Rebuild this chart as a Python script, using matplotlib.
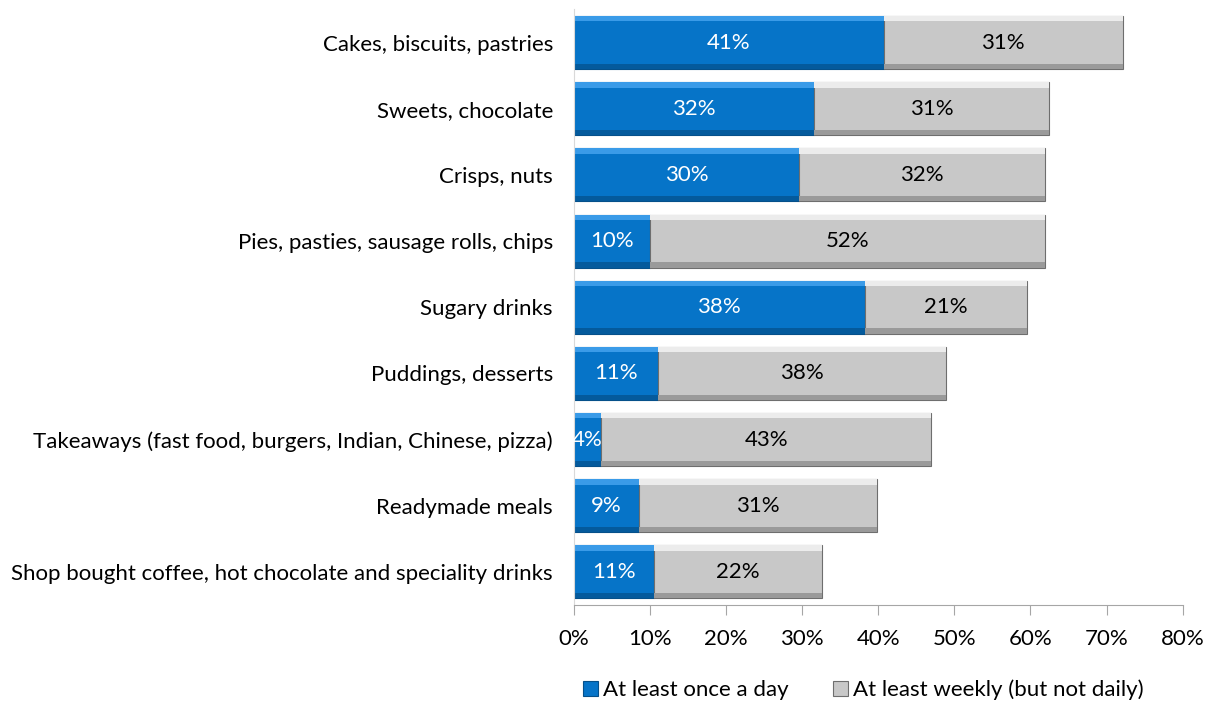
import matplotlib.pyplot as plt
import numpy as np

categories = [
    "Cakes, biscuits, pastries",
    "Sweets, chocolate",
    "Crisps, nuts",
    "Pies, pasties, sausage rolls, chips",
    "Sugary drinks",
    "Puddings, desserts",
    "Takeaways (fast food, burgers, Indian, Chinese, pizza)",
    "Readymade meals",
    "Shop bought coffee, hot chocolate and speciality drinks",
]
daily = [40.7, 31.6, 29.6, 10.0, 38.2, 11.1, 3.6, 8.6, 10.6]
weekly = [31.4, 30.8, 32.3, 51.9, 21.3, 37.8, 43.4, 31.2, 22.0]
series_names = ["At least once a day", "At least weekly (but not daily)"]
ticks = [0, 10, 20, 30, 40, 50, 60, 70, 80]

plt.rcParams['font.family'] = ['Lato', 'DejaVu Sans']
fs = 16

blue = "#0674C8"
grey = "#C8C8C8"

fig = plt.figure(figsize=(12.08, 7.04), dpi=100)
ax = fig.add_axes([0.475, 0.1406, 0.504, 0.846])

y = np.arange(len(categories))
h = 0.8
daily = np.array(daily)
weekly = np.array(weekly)

b1 = ax.barh(y, daily, height=h, color=blue, edgecolor="#05508A", linewidth=0.8, label=series_names[0])
b2 = ax.barh(y, weekly, left=daily, height=h, color=grey, edgecolor="#6E6E6E", linewidth=0.8, label=series_names[1])

# simple bevel: light band on top, dark band at bottom
bev = 0.08
ax.barh(y - h / 2 + bev / 2, daily, height=bev, color="#3A9BE8", linewidth=0)
ax.barh(y + h / 2 - bev / 2, daily, height=bev, color="#045A9C", linewidth=0)
ax.barh(y - h / 2 + bev / 2, weekly, left=daily, height=bev, color="#ECECEC", linewidth=0)
ax.barh(y + h / 2 - bev / 2, weekly, left=daily, height=bev, color="#9A9A9A", linewidth=0)

for i in range(len(categories)):
    ax.text(daily[i] / 2, y[i], f"{daily[i]:.0f}%", ha="center", va="center",
            color="white", fontsize=fs)
    ax.text(daily[i] + weekly[i] / 2, y[i], f"{weekly[i]:.0f}%", ha="center", va="center",
            color="black", fontsize=fs)

ax.set_xlim(0, 80)
ax.set_ylim(len(categories) - 0.5, -0.5)
ax.set_yticks(y)
ax.set_yticklabels(categories, fontsize=fs)
ax.tick_params(axis="y", length=0, pad=15)
ax.set_xticks(ticks)
ax.set_xticklabels([f"{t}%" for t in ticks], fontsize=fs)
ax.tick_params(axis="x", length=7, color="#A6A6A6", pad=10, direction="out")

for s in ["top", "right"]:
    ax.spines[s].set_visible(False)
ax.spines["left"].set_color("#D9D9D9")
ax.spines["bottom"].set_color("#A6A6A6")

ax.legend(handles=[b1, b2], loc="center", bbox_to_anchor=(0.475, -0.143), ncol=2,
          frameon=False, fontsize=fs, handlelength=0.7, handleheight=0.7,
          handletextpad=0.2, columnspacing=2.0, borderpad=0)

fig.savefig("out.png", dpi=100)
